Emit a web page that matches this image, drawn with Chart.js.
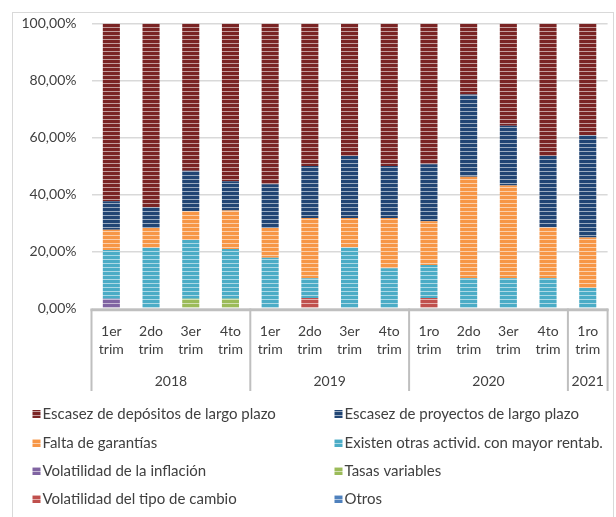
<!DOCTYPE html>
<html>
<head>
<meta charset="utf-8">
<script src="https://cdn.jsdelivr.net/npm/chart.js@4/dist/chart.umd.min.js"></script>
<style>
  body { margin: 0; background: #fff; }
  canvas { display: block; }
</style>
</head>
<body>
<canvas id="chart" width="616" height="517"></canvas>
<script>
// quarter labels and year groups
const quarters = ['1er', '2do', '3er', '4to', '1er', '2do', '3er', '4to', '1ro', '2do', '3er', '4to', '1ro'];
const years = ['2018', '2019', '2020', '2021'];
const yearSizes = [4, 4, 4, 1];
const yTicks = [0, 20, 40, 60, 80, 100];

// series values (%)
const depositos = [62.4, 64.5, 51.7, 55.4, 56.4, 50.0, 46.5, 50.0, 49.4, 24.9, 35.9, 46.5, 39.2];
const proyectos = [10.0, 7.3, 14.2, 10.2, 15.4, 18.3, 21.8, 18.3, 20.0, 28.9, 21.0, 25.1, 35.9];
const garantias = [7.1, 6.9, 10.1, 13.5, 10.4, 21.1, 10.3, 17.6, 15.3, 35.6, 32.5, 17.8, 17.7];
const otrasActiv = [17.1, 21.3, 20.6, 17.5, 17.8, 6.9, 21.4, 14.1, 11.6, 10.6, 10.6, 10.6, 7.2];
const inflacion = [3.4, 0, 0, 0, 0, 0, 0, 0, 0, 0, 0, 0, 0];
const tasas = [0, 0, 3.4, 3.4, 0, 0, 0, 0, 0, 0, 0, 0, 0];
const tipoCambio = [0, 0, 0, 0, 0, 3.7, 0, 0, 3.7, 0, 0, 0, 0];
const otros = [0, 0, 0, 0, 0, 0, 0, 0, 0, 0, 0, 0, 0];

const FONT = 'Lato, "Open Sans", sans-serif';
const TEXT = '#404040';

function stripes(color) {
  const c = document.createElement('canvas');
  c.width = 4; c.height = 4;
  const g = c.getContext('2d');
  g.fillStyle = color;
  g.fillRect(0, 0, 4, 4);
  g.fillStyle = 'rgba(255,255,255,0.55)';
  g.fillRect(0, 3, 4, 1);
  return g.createPattern(c, 'repeat');
}

// bottom to top
const series = [
  { label: 'Volatilidad del tipo de cambio', data: tipoCambio, color: '#c0504d' },
  { label: 'Volatilidad de la inflación', data: inflacion, color: '#8064a2' },
  { label: 'Tasas variables', data: tasas, color: '#9bbb59' },
  { label: 'Otros', data: otros, color: '#4f81bd' },
  { label: 'Existen otras activid. con mayor rentab.', data: otrasActiv, color: '#4bacc6' },
  { label: 'Falta de garantías', data: garantias, color: '#f79646' },
  { label: 'Escasez de proyectos de largo plazo', data: proyectos, color: '#214574' },
  { label: 'Escasez de depósitos de largo plazo', data: depositos, color: '#7a2424' }
];

// legend order, two columns
const legendOrder = [
  'Escasez de depósitos de largo plazo', 'Escasez de proyectos de largo plazo',
  'Falta de garantías', 'Existen otras activid. con mayor rentab.',
  'Volatilidad de la inflación', 'Tasas variables',
  'Volatilidad del tipo de cambio', 'Otros'
];

const frame = {
  id: 'frame',
  beforeDraw(chart) {
    const ctx = chart.ctx;
    ctx.save();
    ctx.strokeStyle = '#d9d9d9';
    ctx.lineWidth = 1;
    ctx.strokeRect(12.5, 12.5, 601, 520);
    ctx.restore();
  }
};

const xLabels = {
  id: 'xLabels',
  afterDraw(chart) {
    const ctx = chart.ctx;
    const x = chart.scales.x;
    const area = chart.chartArea;
    const half = (x.getPixelForValue(1) - x.getPixelForValue(0)) / 2;
    ctx.save();
    // axis line
    ctx.strokeStyle = '#bfbfbf';
    ctx.lineWidth = 2.5;
    ctx.beginPath();
    ctx.moveTo(area.left - 1, area.bottom + 1.5);
    ctx.lineTo(area.right + 1, area.bottom + 1.5);
    ctx.stroke();
    // group separators
    let idx = 0;
    const bounds = [area.left];
    yearSizes.forEach(n => { idx += n; bounds.push(x.getPixelForValue(idx - 1) + half); });
    ctx.lineWidth = 2;
    bounds.forEach(b => {
      ctx.beginPath();
      ctx.moveTo(b, area.bottom);
      ctx.lineTo(b, 391);
      ctx.stroke();
    });
    // quarter labels
    ctx.fillStyle = TEXT;
    ctx.font = '14px ' + FONT;
    ctx.textAlign = 'center';
    ctx.textBaseline = 'middle';
    quarters.forEach((q, i) => {
      const px = x.getPixelForValue(i);
      ctx.fillText(q, px, 331);
      ctx.fillText('trim', px, 349.5);
    });
    // year labels
    years.forEach((y, i) => {
      ctx.fillText(y, (bounds[i] + bounds[i + 1]) / 2, 381);
    });
    // legend
    const byLabel = {};
    chart.data.datasets.forEach(d => { byLabel[d.label] = d; });
    const rows = [414, 443, 471, 499];
    const cols = [32.5, 334.5];
    ctx.font = '15px ' + FONT;
    ctx.textAlign = 'left';
    legendOrder.forEach((lab, i) => {
      const cx = cols[i % 2], cy = rows[Math.floor(i / 2)];
      ctx.fillStyle = byLabel[lab].backgroundColor;
      ctx.fillRect(cx, cy - 4, 8, 8);
      ctx.fillStyle = TEXT;
      ctx.fillText(lab, cx + 10, cy);
    });
    ctx.restore();
  }
};

new Chart(document.getElementById('chart'), {
  type: 'bar',
  data: {
    labels: quarters.map(q => q + ' trim'),
    datasets: series.map(s => ({
      label: s.label,
      data: s.data,
      backgroundColor: stripes(s.color),
      borderWidth: 0,
      categoryPercentage: 1,
      barPercentage: 0.43
    }))
  },
  options: {
    responsive: false,
    animation: false,
    layout: { padding: { top: 20.7, right: 8.4, left: 0, bottom: 0 } },
    plugins: { legend: { display: false }, tooltip: { enabled: false } },
    scales: {
      x: {
        stacked: true,
        grid: { display: false },
        border: { display: false },
        ticks: { display: false },
        afterFit(scale) { scale.height = 517 - 308.5; }
      },
      y: {
        stacked: true,
        min: 0,
        max: 100,
        afterBuildTicks(scale) { scale.ticks = yTicks.map(v => ({ value: v })); },
        afterFit(scale) { scale.width = 91.5; },
        grid: { color: '#d9d9d9', lineWidth: 1.5, drawTicks: false },
        border: { display: false },
        ticks: {
          padding: 15,
          color: TEXT,
          font: { family: FONT, size: 14 },
          callback: v => v.toFixed(2).replace('.', ',') + '%'
        }
      }
    }
  },
  plugins: [frame, xLabels]
});
</script>
</body>
</html>
